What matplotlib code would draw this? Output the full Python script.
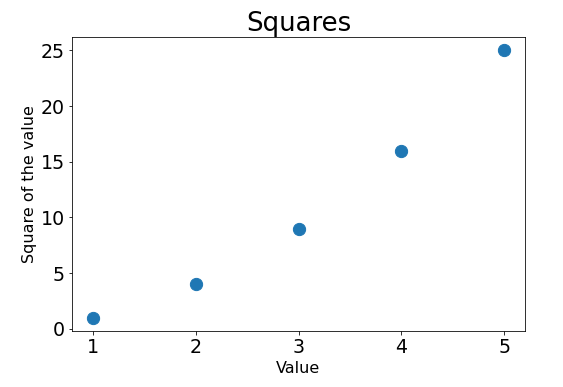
import matplotlib
matplotlib.use("Agg")
import matplotlib.pyplot as plt

# Data
x_values = [1, 2, 3, 4, 5]
y_values = [1, 4, 9, 16, 25]

fig = plt.figure(figsize=(563 / 72, 387 / 72), dpi=72)
ax = fig.add_axes([72 / 563, 1 - 331 / 387, (525 - 72) / 563, (331 - 37) / 387])

ax.scatter(x_values, y_values, s=150, color="#1f77b4")

ax.set_title("Squares", fontsize=26)
ax.set_xlabel("Value", fontsize=16)
ax.set_ylabel("Square of the value", fontsize=16)
ax.tick_params(axis="both", labelsize=19)

fig.savefig("out.png", dpi=72, facecolor="white")
